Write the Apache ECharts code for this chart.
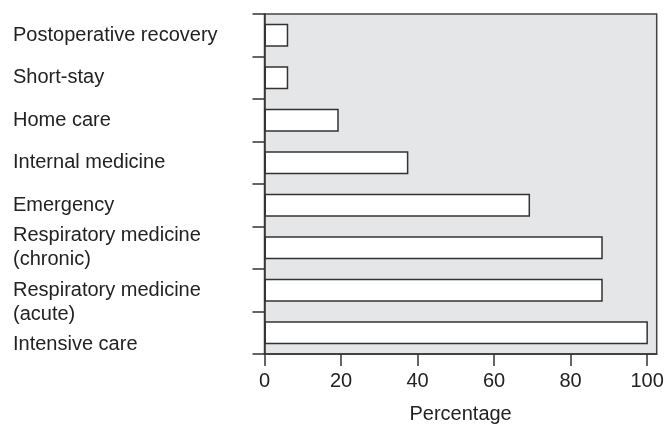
<!DOCTYPE html>
<html>
<head>
<meta charset="utf-8">
<script src="https://cdn.jsdelivr.net/npm/echarts@6/dist/echarts.min.js"></script>
<style>
html,body{margin:0;padding:0;background:#fff;}
#c{width:666px;height:426px;}
</style>
</head>
<body>
<div id="c"></div>
<script>
var categories = [
  "Postoperative recovery",
  "Short-stay",
  "Home care",
  "Internal medicine",
  "Emergency",
  "Respiratory medicine\n(chronic)",
  "Respiratory medicine\n(acute)",
  "Intensive care"
];
var values = [6.2, 6.2, 19.4, 37.6, 69.4, 88.4, 88.4, 100.2];
var xTicks = [0, 20, 40, 60, 80, 100];
var labelShifted = [false, false, false, false, false, false, true, true];

var FONT = "'Liberation Sans', Arial, Helvetica, sans-serif";
var chart = echarts.init(document.getElementById('c'), null, {renderer: 'canvas'});
chart.setOption({
  animation: false,
  backgroundColor: '#ffffff',
  grid: {
    left: 264.5, right: 9.3, top: 14, bottom: 72,
    show: true, backgroundColor: '#e5e6e8',
    borderColor: '#444', borderWidth: 1.5,
    containLabel: false, outerBoundsMode: 'none'
  },
  xAxis: {
    type: 'value', min: 0, max: 102.5, interval: 20,
    name: 'Percentage', nameLocation: 'middle', nameGap: 50,
    nameTextStyle: {fontFamily: FONT, fontSize: 20, color: '#222'},
    axisLine: {show: true, lineStyle: {color: '#333', width: 1.5}},
    axisTick: {show: true, length: 12, lineStyle: {color: '#333', width: 1.5},
      customValues: xTicks},
    axisLabel: {fontFamily: FONT, fontSize: 20, color: '#222', margin: 17,
      customValues: xTicks},
    splitLine: {show: false}
  },
  yAxis: {
    type: 'category', inverse: true, data: categories,
    axisLine: {show: true, lineStyle: {color: '#333', width: 1.5}},
    axisTick: {show: true, length: 12, lineStyle: {color: '#333', width: 1.5}},
    axisLabel: {fontFamily: FONT, fontSize: 20, color: '#222', align: 'left',
      margin: 251.5, lineHeight: 24, interval: 0, hideOverlap: false,
      formatter: function (v, i) { return labelShifted[i] ? '\n' + v : v; }},
    splitLine: {show: false}
  },
  series: [{
    type: 'bar', data: values, barWidth: 23,
    itemStyle: {color: '#ffffff', borderColor: '#333', borderWidth: 1.5}
  }]
});
</script>
</body>
</html>
